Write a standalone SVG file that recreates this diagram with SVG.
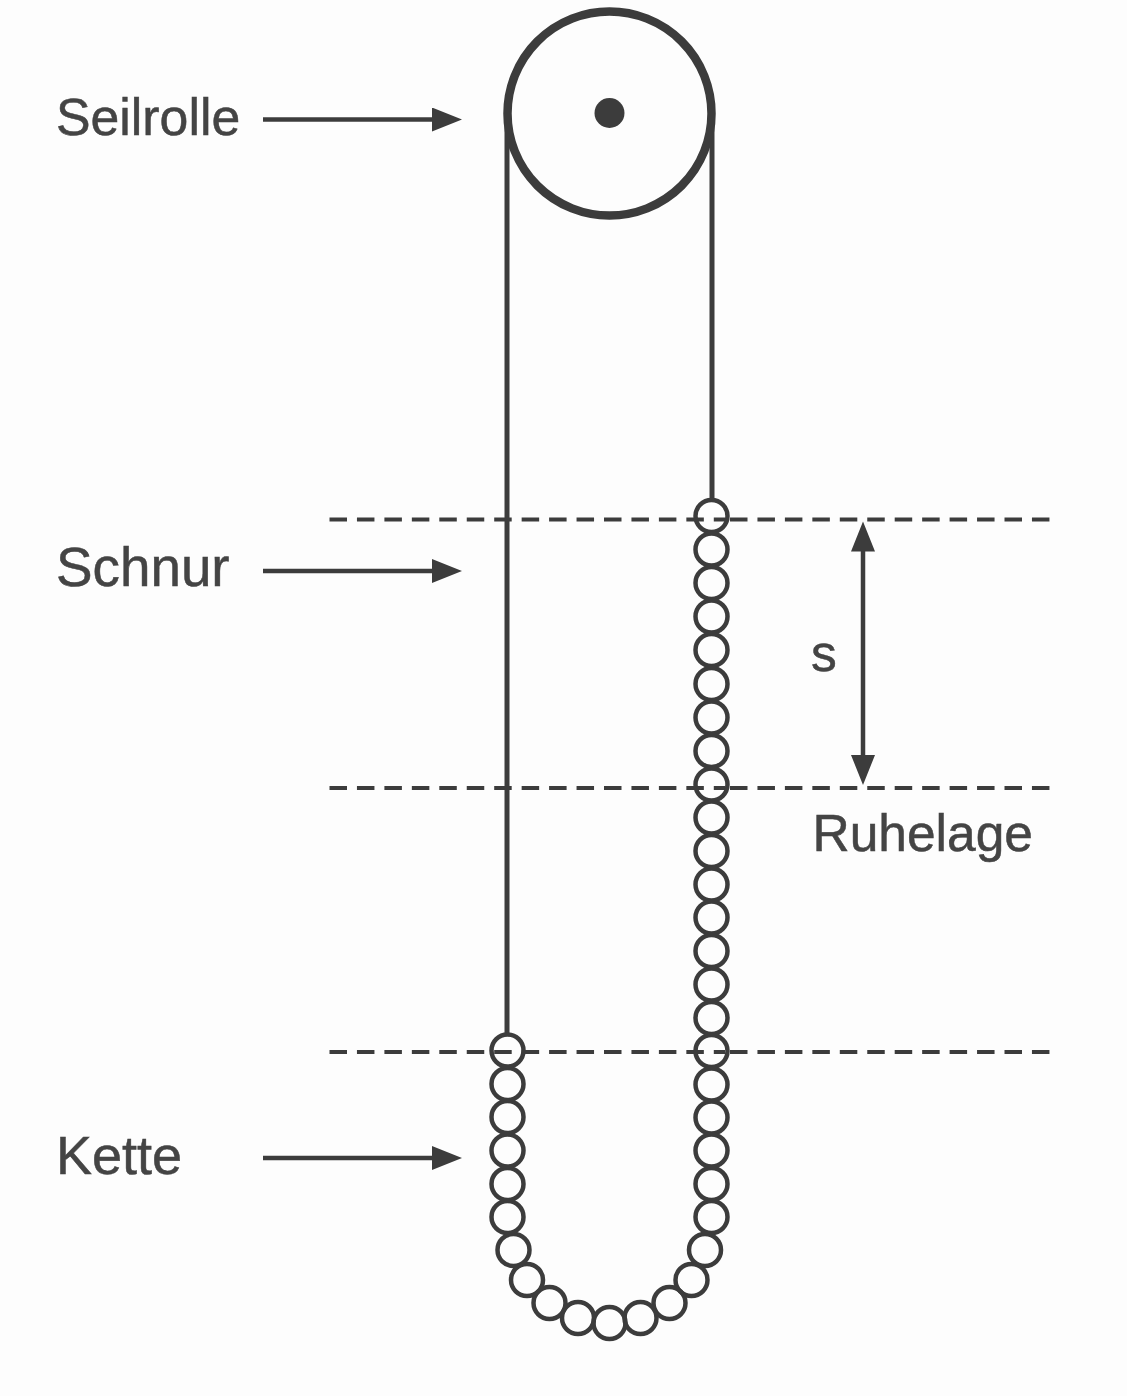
<svg xmlns="http://www.w3.org/2000/svg" width="1127" height="1396" viewBox="0 0 1127 1396">
<style>
.l{font-family:"Liberation Sans",Arial,sans-serif;font-size:51.500px;fill:#444;stroke:#444;stroke-width:.5}
.c{stroke:#3c3c3c;fill:none}
.s{stroke:#3c3c3c;stroke-width:4.500;fill:none}
.d{stroke:#3c3c3c;stroke-width:4;stroke-dasharray:17.500 9.950;fill:none}
.a{stroke:#3c3c3c;stroke-width:4.500;fill:none}
</style>
<defs>
<marker id="h" markerUnits="userSpaceOnUse" markerWidth="32" markerHeight="24" refX="2" refY="12" orient="auto-start-reverse"><path d="M0 0L30 12L0 24Z" fill="#3c3c3c"/></marker>
</defs>
<rect width="1127" height="1396" fill="#fdfdfd"/>
<g id="connectors">
<path class="d" d="M329.500 519.500H725"/>
<path class="d" d="M730 519.500H1050"/>
<path class="d" d="M329.500 788H725"/>
<path class="d" d="M730 788H1050"/>
<path class="d" d="M329.500 1052H725"/>
<path class="d" d="M730 1052H1050"/>
<path class="a" d="M263 119.500H434" marker-end="url(#h)"/>
<path class="a" d="M263 571H434" marker-end="url(#h)"/>
<path class="a" d="M263 1158H434" marker-end="url(#h)"/>
<path class="a" d="M863 549.500V757" marker-start="url(#h)" marker-end="url(#h)"/>
</g>
<g id="seilrolle">
<circle class="c" cx="609.500" cy="113.500" r="102" stroke-width="8.500"/>
<circle cx="609.500" cy="113" r="15" fill="#3c3c3c"/>
</g>
<g id="schnur">
<path class="c" stroke-width="5" d="M507 113V1034"/>
<path class="c" stroke-width="5" d="M712 113V500"/>
</g>
<g id="kette">
<circle class="s" cx="711.500" cy="516" r="16"/>
<circle class="s" cx="711.500" cy="549.500" r="16"/>
<circle class="s" cx="711.500" cy="583" r="16"/>
<circle class="s" cx="711.500" cy="616.500" r="16"/>
<circle class="s" cx="711.500" cy="650" r="16"/>
<circle class="s" cx="711.500" cy="684" r="16"/>
<circle class="s" cx="711.500" cy="717.500" r="16"/>
<circle class="s" cx="711.500" cy="751" r="16"/>
<circle class="s" cx="711.500" cy="784.500" r="16"/>
<circle class="s" cx="711.500" cy="817.500" r="16"/>
<circle class="s" cx="711.500" cy="851" r="16"/>
<circle class="s" cx="711.500" cy="884.500" r="16"/>
<circle class="s" cx="711.500" cy="917.500" r="16"/>
<circle class="s" cx="711.500" cy="951" r="16"/>
<circle class="s" cx="711.500" cy="984.500" r="16"/>
<circle class="s" cx="711.500" cy="1018" r="16"/>
<circle class="s" cx="711.500" cy="1051" r="16"/>
<circle class="s" cx="711.500" cy="1084.500" r="16"/>
<circle class="s" cx="711.500" cy="1117.500" r="16"/>
<circle class="s" cx="711.500" cy="1150.500" r="16"/>
<circle class="s" cx="711.500" cy="1184" r="16"/>
<circle class="s" cx="711.500" cy="1217" r="16"/>
<circle class="s" cx="705" cy="1250" r="16"/>
<circle class="s" cx="691.500" cy="1280" r="16"/>
<circle class="s" cx="669.500" cy="1303" r="16"/>
<circle class="s" cx="640.500" cy="1318" r="16"/>
<circle class="s" cx="609.500" cy="1323" r="16"/>
<circle class="s" cx="578" cy="1318" r="16"/>
<circle class="s" cx="549.500" cy="1303" r="16"/>
<circle class="s" cx="527" cy="1280" r="16"/>
<circle class="s" cx="513.500" cy="1250" r="16"/>
<circle class="s" cx="507.500" cy="1217" r="16"/>
<circle class="s" cx="507.500" cy="1184" r="16"/>
<circle class="s" cx="507.500" cy="1150.500" r="16"/>
<circle class="s" cx="507.500" cy="1117" r="16"/>
<circle class="s" cx="507.500" cy="1084" r="16"/>
<circle class="s" cx="507.500" cy="1050.500" r="16"/>
</g>
<g id="labels">
<text class="l" x="56" y="135" style="font-size:51.800px">Seilrolle</text>
<text class="l" x="56" y="586" style="font-size:54.800px">Schnur</text>
<text class="l" x="56" y="1174" style="font-size:54px">Kette</text>
<text class="l" x="811" y="671">s</text>
<text class="l" x="812.500" y="851">Ruhelage</text>
</g>
</svg>
